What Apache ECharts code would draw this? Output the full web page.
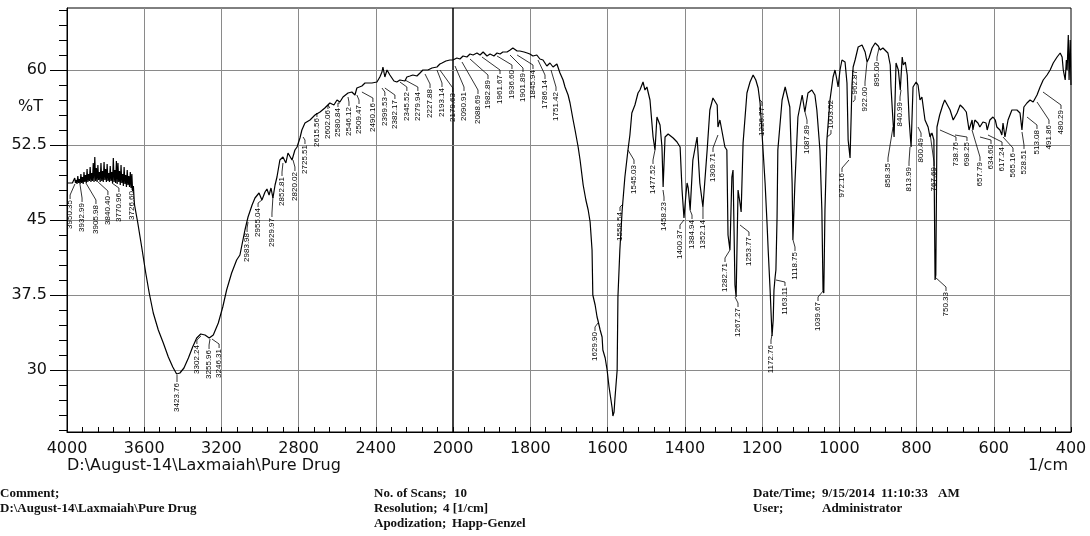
<!DOCTYPE html>
<html><head><meta charset="utf-8">
<script src="https://cdn.jsdelivr.net/npm/echarts@6.0.0/dist/echarts.min.js"></script>
<style>html,body{margin:0;padding:0;background:#fff}#c{width:1090px;height:536px}</style>
</head><body><div id="c"></div>
<script>
// ---------------- DATA ----------------
// spectrum, 4000-2000 1/cm (compressed scale)  [wavenumber, %T]
const spectrumHigh = [
[4000,48.7],[3992,48.8],[3984,48.7],[3976,48.9],[3972,48.7],
[3968,48.9],[3964,48.6],[3960,49.2],[3956,48.7],[3952,49.0],[3948,48.6],[3944,49.4],[3940,48.7],[3936,49.1],[3932,48.6],
[3928,49.6],[3924,48.7],[3920,49.3],[3916,48.6],[3912,49.8],[3908,48.8],[3904,49.5],[3900,48.7],[3896,50.1],[3892,48.8],
[3888,49.6],[3884,48.9],[3880,50.3],[3876,48.8],[3872,49.7],[3868,48.9],[3864,50.7],[3860,48.8],[3856,51.3],[3852,48.9],
[3848,50.2],[3844,48.8],[3840,50.5],[3836,49.0],[3832,49.8],[3828,48.8],[3824,50.7],[3820,48.9],[3816,49.9],[3812,48.8],
[3808,50.8],[3804,49.0],[3800,50.1],[3796,48.8],[3792,50.6],[3788,48.9],[3784,49.7],[3780,48.8],[3776,50.4],[3772,48.9],
[3768,49.8],[3764,48.7],[3760,51.2],[3756,48.8],[3752,50.0],[3748,48.7],[3744,50.9],[3740,48.6],[3736,50.7],[3732,48.8],
[3728,49.9],[3724,48.5],[3720,50.5],[3716,48.7],[3712,49.6],[3708,48.4],[3704,50.3],[3700,48.6],[3696,49.5],[3692,48.3],
[3688,50.0],[3684,48.5],[3680,49.4],[3676,48.3],[3672,49.8],[3668,48.2],[3664,49.6],[3660,47.9],[3656,48.4],[3652,47.0],
[3650,46.5],[3634,44.8],[3613,42.3],[3592,39.7],
[3574,37.7],[3553,35.7],[3527,34.0],[3501,32.7],[3475,31.3],[3452,30.3],[3432,29.6],[3415,29.7],[3394,30.2],[3371,31.2],
[3349,32.3],[3328,33.2],[3307,33.6],[3285,33.5],[3263,33.2],[3242,33.5],[3216,34.7],[3193,36.3],[3173,38.0],[3147,39.7],
[3121,41.0],[3104,41.5],[3078,44.0],[3062,45.3],[3041,46.5],[3026,47.2],[3005,47.7],[2990,47.0],[2974,47.8],[2964,48.1],
[2953,47.5],[2943,48.2],[2933,47.2],[2922,48.5],[2912,49.3],[2897,51.0],[2881,51.3],[2866,50.7],[2855,51.7],[2845,51.8],
[2834,51.0],[2819,52.0],[2808,52.3],[2793,53.2],[2783,54.0],[2767,54.7],[2741,55.0],[2731,55.2],[2715,55.5],[2689,55.8],
[2664,56.2],[2638,56.7],[2617,56.5],[2601,57.0],[2586,56.8],[2570,57.3],[2544,57.7],[2524,57.8],[2508,57.5],[2498,58.2],
[2472,58.4],[2456,58.7],[2420,58.7],[2394,58.8],[2379,59.3],[2368,59.8],[2363,60.3],[2353,59.3],[2342,60.0],[2327,59.5],
[2306,58.9],[2291,58.8],[2275,59.0],[2265,59.2],[2249,58.9],[2239,59.3],[2223,59.4],[2208,59.5],[2187,59.4],[2171,59.7],
[2156,60.0],[2130,60.0],[2109,60.2],[2083,60.3],[2068,60.6],[2057,60.7],[2037,60.9],[2016,61.0],[2000,61.0]
];
// spectrum, 2000-400 1/cm (expanded scale)
const spectrumLow = [
[2000,61.0],[1990,61.2],[1982,61.1],[1974,61.4],[1964,61.3],[1956,61.6],[1948,61.5],[1938,61.7],[1930,61.5],[1922,61.8],
[1912,61.4],[1904,61.6],[1894,61.4],[1886,61.7],[1878,61.6],[1871,61.8],[1860,61.8],[1852,62.0],[1845,62.2],[1834,61.9],
[1827,61.9],[1816,61.8],[1808,61.7],[1801,61.6],[1793,61.4],[1783,61.5],[1775,61.1],[1767,61.0],[1757,60.4],[1749,60.7],
[1741,60.3],[1731,60.6],[1723,59.7],[1715,59.0],[1710,58.3],[1702,57.5],[1697,56.7],[1689,55.0],[1684,54.0],[1676,52.3],
[1671,51.0],[1663,48.5],[1656,47.0],[1650,46.0],[1645,44.8],[1640,42.0],[1638,37.5],[1632,36.5],[1627,35.3],[1625,35.0],
[1619,34.0],[1614,33.3],[1612,32.0],[1606,31.2],[1601,30.0],[1596,28.3],[1591,27.0],[1588,26.2],[1586,25.4],[1583,25.8],
[1581,27.0],[1575,30.0],[1573,37.3],[1568,42.0],[1562,46.0],[1555,49.3],[1547,52.0],[1542,53.5],[1537,55.7],[1529,56.5],
[1521,57.7],[1516,58.0],[1508,58.8],[1503,58.0],[1498,58.3],[1490,57.0],[1482,53.3],[1477,52.0],[1472,55.3],[1464,54.5],
[1459,52.3],[1456,48.3],[1451,53.3],[1443,53.6],[1438,53.5],[1430,53.2],[1420,52.8],[1412,52.3],[1407,48.0],[1402,45.2],
[1397,47.5],[1394,48.7],[1391,48.2],[1386,46.0],[1379,51.0],[1368,53.3],[1361,48.7],[1353,46.3],[1342,52.0],[1335,56.0],
[1327,57.2],[1316,56.5],[1314,54.3],[1309,55.0],[1304,54.8],[1296,52.3],[1291,52.0],[1288,43.5],[1283,42.0],[1278,49.3],
[1275,50.0],[1270,38.5],[1267,37.3],[1262,48.0],[1257,46.7],[1254,45.8],[1249,52.7],[1239,57.7],[1231,58.8],[1223,59.5],
[1216,59.0],[1210,58.2],[1205,56.7],[1200,53.7],[1192,48.7],[1187,44.7],[1184,42.0],[1179,38.0],[1174,33.4],[1171,35.0],
[1169,38.0],[1166,39.3],[1164,40.0],[1161,45.3],[1159,52.0],[1148,57.0],[1140,58.3],[1135,58.5],[1128,56.3],[1122,48.7],
[1120,43.0],[1115,48.5],[1107,55.3],[1096,57.5],[1089,55.8],[1081,57.7],[1071,58.0],[1063,57.5],[1058,56.0],[1050,52.0],
[1045,46.0],[1042,38.0],[1040,37.7],[1037,46.0],[1032,53.0],[1024,57.0],[1016,59.3],[1011,60.0],[1006,59.0],[1003,58.3],
[998,60.0],[993,61.0],[985,60.8],[980,58.7],[977,53.0],[972,51.2],[967,58.5],[964,60.3],[959,61.0],[951,62.3],
[941,62.5],[933,61.8],[928,60.8],[923,61.2],[915,62.2],[907,62.7],[899,62.4],[894,62.0],[887,62.2],[874,61.7],
[868,60.5],[866,58.3],[861,55.0],[858,53.3],[853,60.7],[847,60.0],[842,58.0],[837,61.3],[834,60.5],[829,60.8],
[824,59.5],[819,55.0],[814,52.3],[809,58.3],[801,58.8],[796,58.5],[791,57.0],[786,57.3],[778,55.0],[770,54.3],
[765,53.3],[760,53.7],[755,53.0],[752,39.0],[750,39.5],[747,54.3],[740,55.5],[732,56.5],[727,57.0],[722,56.8],
[713,56.0],[705,55.0],[700,54.8],[695,55.7],[687,56.5],[679,56.2],[671,55.8],[664,54.0],[656,55.0],[654,54.0],
[649,55.0],[641,54.7],[636,54.3],[628,54.8],[620,54.7],[617,54.0],[610,55.0],[602,55.3],[596,55.0],[592,54.3],
[584,54.0],[579,53.5],[576,54.7],[571,53.3],[563,55.0],[553,56.0],[540,56.0],[532,55.7],[527,54.0],[522,56.3],
[514,56.7],[506,57.0],[498,56.8],[488,57.5],[480,58.3],[472,59.0],[462,59.5],[454,60.0],[446,60.7],[436,61.3],
[428,61.7],[423,61.3],[420,60.0],[415,59.0],[412,61.0],[410,60.0],[407,63.5],[405,59.0],[402,63.0],[400,58.5]
];

// peak labels (text), where each label column sits [wavenumber, %T at label top], and where its leader meets the trace
const peakTextHigh = ['3950.35','3932.99','3905.98','3840.40','3770.96','3726.60','3423.76','3302.24','3255.96','3246.31',
 '2983.98','2955.04','2929.97','2852.81','2820.02','2725.51','2615.56','2602.06','2580.84','2546.12','2509.47','2490.16',
 '2399.53','2382.17','2345.52','2279.94','2227.88','2193.14','2179.63'];
const peakAtHigh = [[3984,47.0],[3922,46.7],[3850,46.5],[3788,47.4],[3731,47.7],[3663,47.9],[3430,28.7],[3327,32.5],[3264,32.0],[3212,32.1],
 [3067,43.7],[3010,46.2],[2938,45.2],[2886,49.3],[2819,49.8],[2767,52.5],[2705,55.2],[2648,56.0],[2596,56.2],[2539,56.3],[2487,56.5],[2415,56.7],
 [2353,57.3],[2301,57.0],[2239,57.8],[2182,57.8],[2119,58.1],[2057,58.2],[2001,57.7]];
const peakLeadHigh = [[3959,48.6],[3933,48.6],[3902,48.7],[3839,48.8],[3767,48.7],[3668,48.2],[3430,29.5],[3306,33.4],[3259,33.1],[3249,33.1],
 [3062,44.8],[2990,47.0],[2933,47.3],[2881,50.7],[2829,51.0],[2777,53.3],[2715,55.5],[2638,56.2],[2586,56.7],[2544,57.3],[2498,57.5],[2472,57.8],
 [2368,58.2],[2353,58.2],[2275,58.8],[2249,59.0],[2145,59.6],[2083,60.0],[2068,60.0]];

const peakTextLow = ['2090.91','2088.69','1982.89','1961.67','1936.60','1901.89','1845.94','1786.14','1751.42',
 '1629.90','1558.54','1545.03','1477.52','1458.23','1400.37','1384.94','1352.14','1309.71','1282.71','1267.27','1253.77',
 '1226.77','1172.76','1163.11','1118.75','1087.89','1039.67','1003.02','972.16','962.87','922.00','895.00','858.35',
 '840.99','813.99','800.49','767.69','750.33','738.76','698.25','657.79','634.60','617.24','565.16','528.51','513.08',
 '491.86','480.29'];
const peakAtLow = [[1971.5,57.8],[1935.3,57.5],[1909.4,59.0],[1878.3,59.5],[1847.3,60.0],[1818.8,59.7],[1792.9,60.0],[1761.8,59.0],[1733.3,57.8],
 [1632.4,33.8],[1567.6,45.8],[1531.4,50.5],[1482.2,50.5],[1453.7,46.8],[1412.3,44.0],[1381.2,45.0],[1352.8,45.0],[1326.9,51.7],[1295.8,40.7],[1262.1,36.2],[1233.7,43.3],
 [1200,56.3],[1176.7,32.5],[1140.5,38.3],[1114.6,41.8],[1083.5,54.5],[1055,36.8],[1021.4,57.0],[992.9,49.7],[959.2,60.0],[933.3,58.3],[902.3,60.8],[873.8,50.7],
 [842.7,56.8],[819.4,50.3],[788.3,53.2],[754.7,50.3],[723.6,37.8],[697.8,52.8],[669.3,52.8],[635.6,50.8],[607.1,52.5],[578.6,52.3],[550.2,51.7],[521.7,52.0],[488.1,54.0],
 [457.0,54.5],[425.9,56.0]];
const peakLeadLow = [[1994.8,60.4],[1976.7,60.8],[1956,61.1],[1925,61.3],[1886,61.4],[1852.4,61.5],[1834,61.5],[1780,61.0],[1746.3,60.0],
 [1624.6,34.7],[1562.5,46.5],[1547,52.0],[1477,52.0],[1456.3,48.0],[1401.9,45.0],[1386.4,46.0],[1352.8,46.3],[1314,53.5],[1282.9,42.0],[1269.9,37.3],[1256.9,44.5],
 [1205.2,57.0],[1174.3,33.5],[1163.8,39.0],[1119.7,43.0],[1088.7,55.8],[1039.5,38.0],[1031.7,53.3],[974.8,51.0],[964.4,56.8],[928.2,60.8],[897.1,62.2],[860.8,54.3],
 [840.1,58.0],[816.8,52.3],[796.1,54.3],[765.1,53.7],[752.1,39.3],[739.2,54.0],[700.3,53.5],[656.3,54.0],[635.6,53.3],[614.9,53.5],[576.1,53.3],[526.9,53.8],[513.9,55.3],
 [488.0,56.8],[472.5,57.8]];
// labels whose leader leaves from the lower end of the text
const leadFromBottom = ['1003.02','962.87'];

// axes
const yTickValues = [30, 37.5, 45, 52.5, 60];
const yMinorStep = 1.5;
const footerLines = [
  {t:'Comment;', x:0, y:494}, {t:'D:\\August-14\\Laxmaiah\\Pure Drug', x:0, y:509},
  {t:'No. of Scans;', x:374, y:494}, {t:'10', x:454, y:494},
  {t:'Resolution;', x:374, y:509}, {t:'4 [1/cm]', x:443, y:509},
  {t:'Apodization;', x:374, y:524}, {t:'Happ-Genzel', x:452, y:524},
  {t:'Date/Time;', x:753, y:494}, {t:'9/15/2014', x:822, y:494}, {t:'11:10:33', x:881, y:494}, {t:'AM', x:938, y:494},
  {t:'User;', x:753, y:509}, {t:'Administrator', x:822, y:509}
];

// ---------------- CHART ----------------
const Y_MIN = 23.8, Y_MAX = 66.2;
const minorY = [];
for (let v = 24; v <= 66; v += yMinorStep) minorY.push(+v.toFixed(2));

const LABEL_FONT = '8px "Liberation Sans", Arial, sans-serif';
const mctx = document.createElement('canvas').getContext('2d');
mctx.font = LABEL_FONT;
const textLen = s => mctx.measureText(s).width;

function labelSeries(xIdx, yIdx, texts, at, lead) {
  return {
    type: 'custom', coordinateSystem: 'cartesian2d', xAxisIndex: xIdx, yAxisIndex: yIdx,
    silent: true, clip: false, z: 4, animation: false,
    data: at.map((a, i) => [a[0], a[1], lead[i][0], lead[i][1]]),
    renderItem(params, api) {
      const i = params.dataIndex;
      const p = api.coord([api.value(0), api.value(1)]);
      const e = api.coord([api.value(2), api.value(3)]);
      const txt = texts[i];
      const below = leadFromBottom.includes(txt);
      const len = textLen(txt);
      const sy = below ? p[1] + len + 1 : p[1] - 1;
      const my = below ? sy + 4 : sy - 4;
      return {
        type: 'group',
        children: [
          { type: 'polyline', shape: { points: [[p[0], sy], [p[0], my], e] },
            style: { stroke: '#000', lineWidth: 0.8, fill: null } },
          { type: 'text', x: p[0], y: p[1], rotation: Math.PI / 2,
            style: { text: txt, align: 'right', verticalAlign: 'middle', font: LABEL_FONT, fill: '#000' } }
        ]
      };
    }
  };
}

const axisFont = { fontFamily: '"DejaVu Sans", sans-serif', fontSize: 16, color: '#111' };
const gridLine = { show: true, lineStyle: { color: '#8a8a8a', width: 1 } };
const plainNum = v => String(v);

const option = {
  animation: false,
  backgroundColor: '#fff',
  grid: [
    { left: 67, top: 8, width: 386, height: 424, show: true, borderColor: '#000', borderWidth: 1, backgroundColor: 'transparent' },
    { left: 453, top: 8, width: 618, height: 424, show: true, borderColor: '#000', borderWidth: 1, backgroundColor: 'transparent' }
  ],
  xAxis: [
    { type: 'value', gridIndex: 0, min: 2000, max: 4000, interval: 400, inverse: true,
      axisLine: { show: true, lineStyle: { color: '#000' } },
      axisTick: { show: true, inside: true, length: 5, lineStyle: { color: '#000' } },
      minorTick: { show: true, splitNumber: 5, length: 5, lineStyle: { color: '#000' } },
      axisLabel: Object.assign({ margin: 9, formatter: plainNum }, axisFont),
      splitLine: Object.assign({ showMinLine: false, showMaxLine: false }, gridLine) },
    { type: 'value', gridIndex: 1, min: 400, max: 2000, interval: 200, inverse: true,
      axisLine: { show: true, lineStyle: { color: '#000' } },
      axisTick: { show: true, inside: true, length: 5, lineStyle: { color: '#000' } },
      minorTick: { show: true, splitNumber: 5, length: 5, lineStyle: { color: '#000' } },
      axisLabel: Object.assign({ margin: 9, showMaxLabel: false, formatter: plainNum }, axisFont),
      splitLine: Object.assign({ showMinLine: false, showMaxLine: false }, gridLine) }
  ],
  yAxis: [
    { type: 'value', gridIndex: 0, min: Y_MIN, max: Y_MAX, position: 'left',
      axisLine: { show: true, lineStyle: { color: '#000' } },
      axisTick: { show: true, length: 17, customValues: yTickValues, lineStyle: { color: '#000' } },
      axisLabel: Object.assign({ margin: 20, customValues: yTickValues, formatter: plainNum }, axisFont),
      splitLine: gridLine },
    { type: 'value', gridIndex: 0, min: Y_MIN, max: Y_MAX, position: 'left',
      axisLine: { show: false },
      axisTick: { show: true, length: 8, customValues: minorY, lineStyle: { color: '#000' } },
      axisLabel: { show: false }, splitLine: { show: false } },
    { type: 'value', gridIndex: 1, min: Y_MIN, max: Y_MAX, position: 'left',
      axisLine: { show: false },
      axisTick: { show: false, customValues: yTickValues },
      axisLabel: { show: false },
      splitLine: gridLine }
  ],
  series: [
    { type: 'line', xAxisIndex: 0, yAxisIndex: 0, data: spectrumHigh, showSymbol: false, symbol: 'none',
      lineStyle: { color: '#000', width: 1.2 }, z: 3 },
    { type: 'line', xAxisIndex: 1, yAxisIndex: 2, data: spectrumLow, showSymbol: false, symbol: 'none',
      lineStyle: { color: '#000', width: 1.2 }, z: 3 },
    labelSeries(0, 0, peakTextHigh, peakAtHigh, peakLeadHigh),
    labelSeries(1, 2, peakTextLow, peakAtLow, peakLeadLow)
  ],
  graphic: [
    { type: 'text', x: 18, y: 107, style: { text: '%T', font: '16px "DejaVu Sans", sans-serif', fill: '#111', verticalAlign: 'middle' } },
    { type: 'text', x: 67, y: 466, style: { text: 'D:\\August-14\\Laxmaiah\\Pure Drug', font: '16px "DejaVu Sans", sans-serif', fill: '#111', verticalAlign: 'middle' } },
    { type: 'text', x: 1068, y: 466, style: { text: '1/cm', font: '16px "DejaVu Sans", sans-serif', fill: '#111', align: 'right', verticalAlign: 'middle' } }
  ].concat(footerLines.map(f => ({
    type: 'text', x: f.x, y: f.y,
    style: { text: f.t, font: 'bold 13px "Liberation Serif", "Times New Roman", serif', fill: '#111', verticalAlign: 'middle' }
  })))
};

const chart = echarts.init(document.getElementById('c'), null, { renderer: 'canvas' });
chart.setOption(option);
</script></body></html>
